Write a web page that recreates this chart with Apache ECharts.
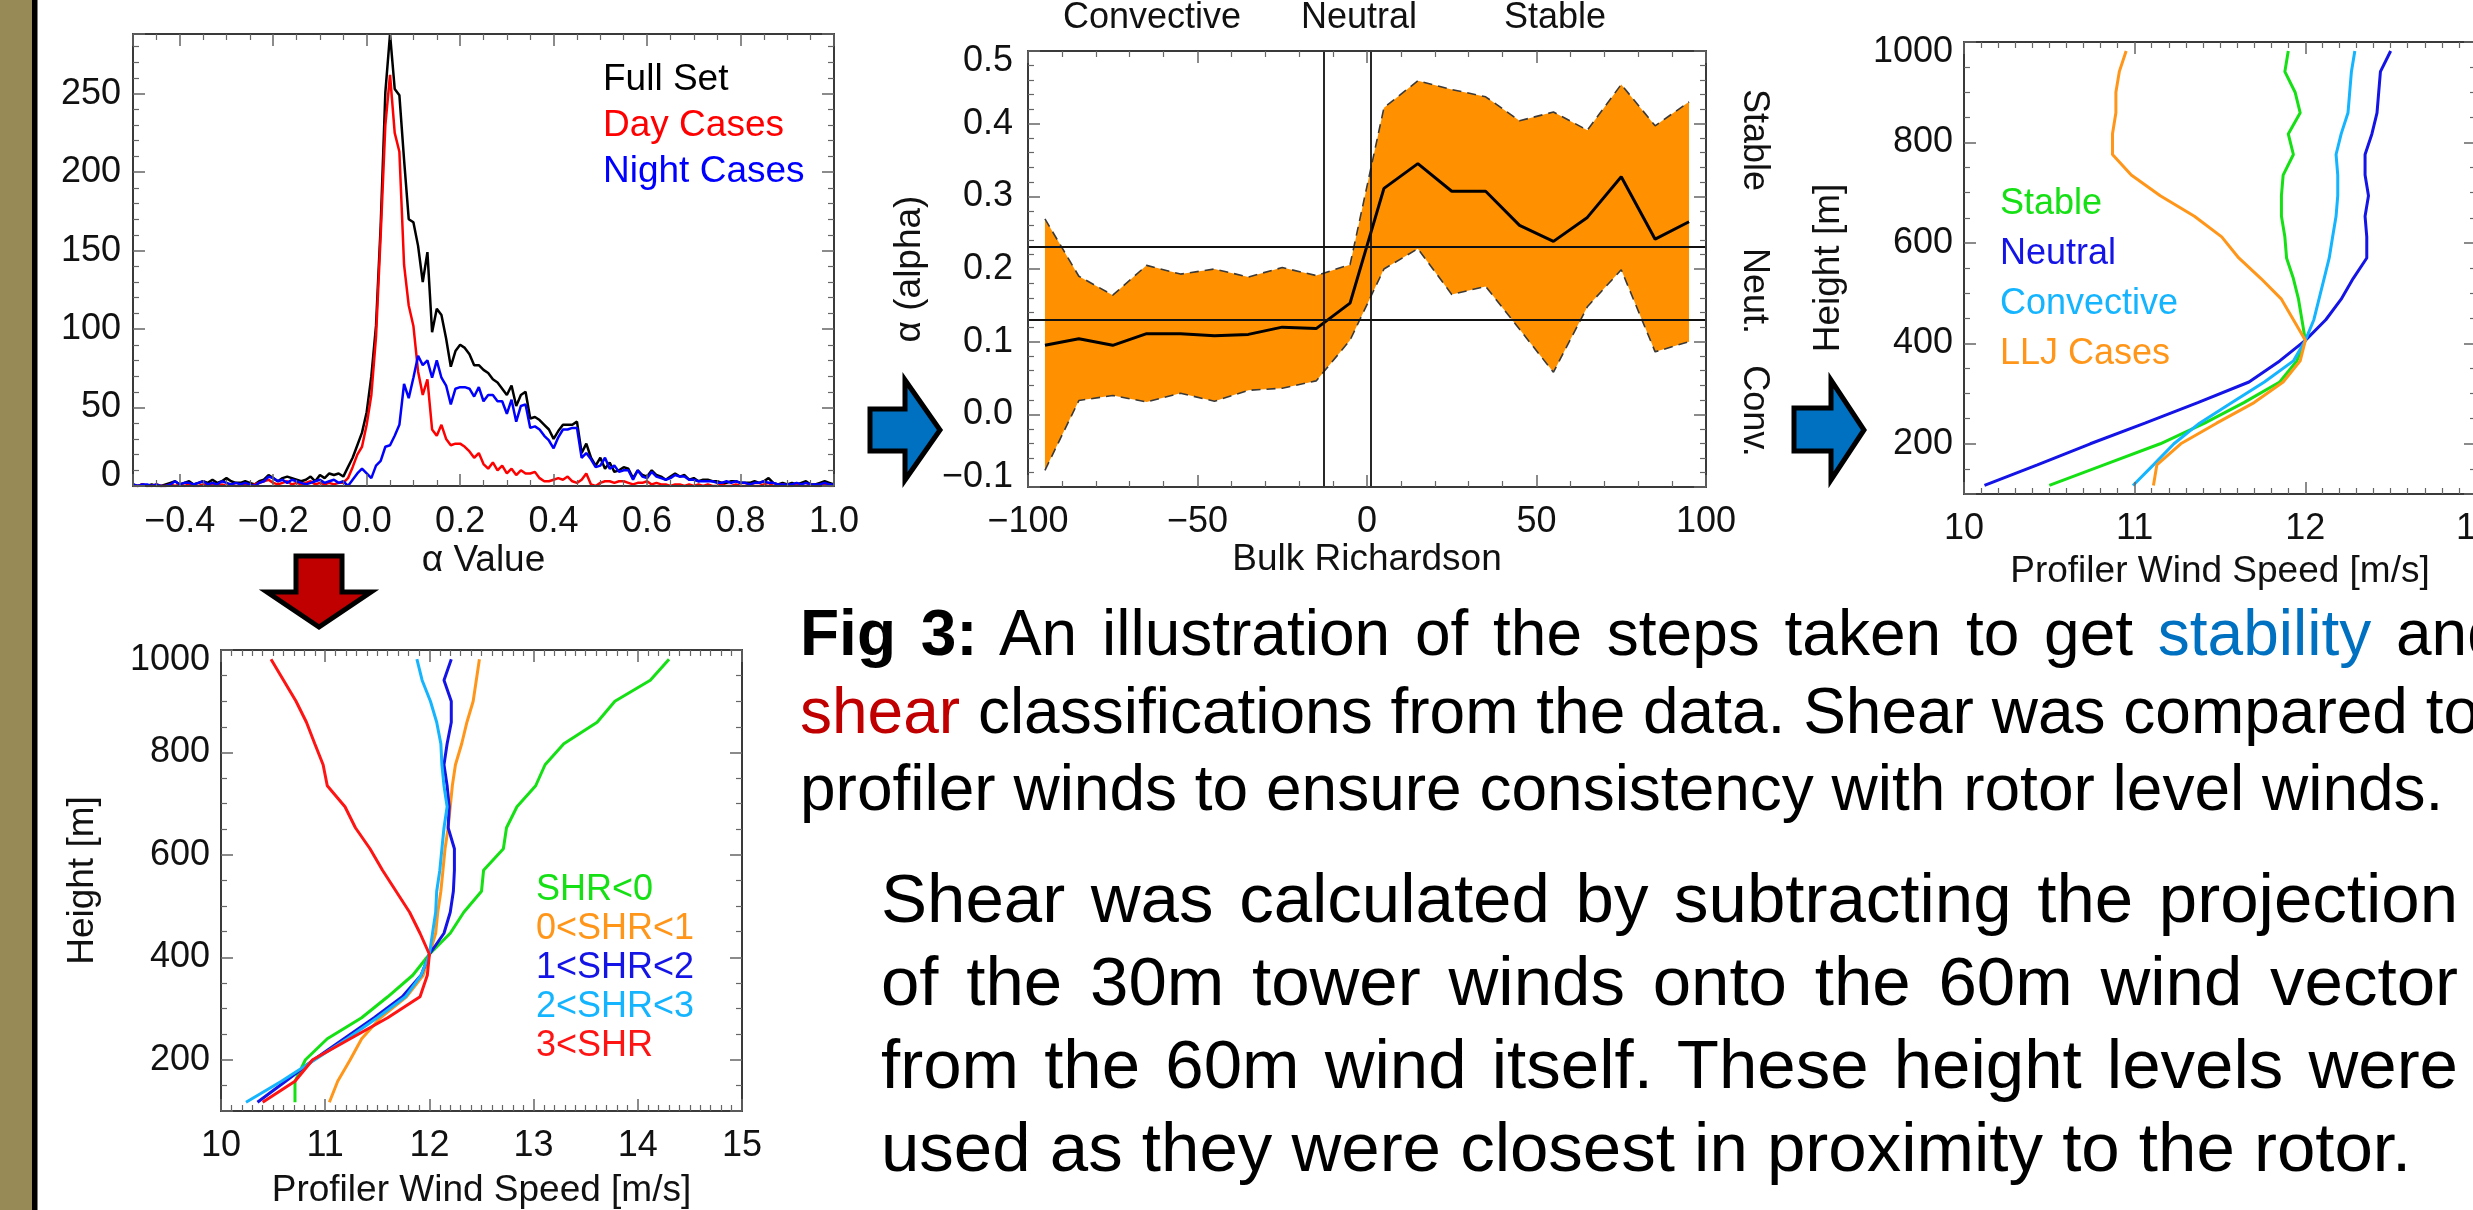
<!DOCTYPE html>
<html>
<head>
<meta charset="utf-8">
<title>Fig 3 - stability and shear classification</title>
<script src="https://cdn.jsdelivr.net/npm/echarts@6.0.0/dist/echarts.min.js"></script>
<style>
  html, body { margin: 0; padding: 0; background: #fff; overflow: hidden; }
  #chart { position: absolute; left: 0; top: 0; width: 2473px; height: 1210px; }
  .txt { position: absolute; font-family: "Liberation Sans", Arial, Helvetica, sans-serif; color: #000; white-space: nowrap; }
  .txt .j { text-align: justify; text-align-last: justify; }
</style>
</head>
<body>
<div id="chart"></div>

<div class="txt" style="left:800px; top:595px; font-size:64px; line-height:77.5px;">
  <div style="word-spacing:7px;"><b>Fig 3:</b> An illustration of the steps taken to get <span style="color:#0070c0">stability</span> and</div>
  <div><span style="color:#c00000">shear</span> classifications from the data. Shear was compared to</div>
  <div>profiler winds to ensure consistency with rotor level winds.</div>
</div>
<div class="txt" style="left:881px; top:856.6px; width:1577px; font-size:69px; line-height:83px;">
  <div class="j">Shear was calculated by subtracting the projection</div>
  <div class="j">of the 30m tower winds onto the 60m wind vector</div>
  <div class="j">from the 60m wind itself. These height levels were</div>
  <div>used as they were closest in proximity to the rotor.</div>
</div>

<script>
// histogram of alpha, bins of 0.01 from -0.50 to 1.00
const alphaBinStart = -0.5;
const alphaBinWidth = 0.01;
const fullSetCounts = [
  1, 0, 1, 0, 1, 0, 0, 1, 2, 3, 1, 2, 3, 1, 2, 3, 2, 4, 2, 3, 5, 3, 2, 2, 3, 2, 1, 3, 4, 7,
  5, 3, 5, 6, 5, 4, 3, 4, 6, 3, 7, 5, 8, 7, 8, 6,
  12, 18, 26, 34, 47,
  70, 102, 166, 251, 288, 253, 249, 208, 170, 168, 153, 130, 149, 98, 113, 109, 94, 76, 86, 90,
  88, 84, 77, 77, 74, 72, 68, 66, 62, 58, 64, 51, 58, 60, 43, 44, 42, 39, 36, 30,
  35, 39, 39, 39, 41, 21, 27, 18, 13, 18, 11, 15, 9,
  10, 12, 11, 5, 10, 7, 6, 10, 7, 6, 4, 6, 8, 6, 7, 4, 5, 3, 4, 4, 3, 3, 2, 2, 3, 3, 2, 2, 2, 3,
  2, 3, 5, 2, 1, 2, 1, 2, 1, 2, 3, 1, 1, 2, 3, 2, 1
];
const dayCounts = [
  0, 0, 1, 0, 0, 1, 0, 0, 1, 0, 1, 0, 1, 0, 0, 1, 0, 1, 0, 1, 0, 1, 0, 0, 1, 0,
  1, 2, 3, 4, 2, 1, 2, 3, 1, 2, 1, 2, 3, 1, 2, 1, 2, 1, 2, 2,
  5, 12, 20, 25, 39,
  58, 95, 160, 230, 262, 225, 213, 141, 115, 102, 73, 58, 68, 36, 32, 39, 30, 26, 27, 27,
  25, 22, 18, 21, 14, 11, 15, 10, 13, 8, 11, 7, 10, 8, 8, 9, 5, 3, 3, 4,
  5, 4, 6, 3, 2, 4, 8, 1, 0, 2, 3, 3, 2,
  3, 3, 2, 1, 2, 2, 3, 1, 2, 1, 1, 0, 1, 1, 0, 1, 0, 1, 0, 1, 0, 0, 1, 0, 0, 1, 0, 0, 1, 0,
  0, 1, 2, 0, 0, 1, 0, 0, 1, 0, 0, 1, 0, 0, 1, 0, 0
];
const nightCounts = [
  1, 0, 1, 1, 0, 1, 0, 0, 1, 3, 1, 2, 2, 1, 2, 3, 1, 2, 1, 3, 2, 1, 2, 1, 2, 1, 0, 2, 3, 6,
  5, 3, 4, 2, 4, 3, 2, 1, 2, 3, 4, 2, 3, 4, 2, 3,
  0, 4, 8, 11, 8,
  5, 13, 16, 25, 26, 32, 39, 65, 56, 69, 83, 77, 80, 69, 80, 69, 64, 52, 62, 63,
  63, 62, 57, 63, 54, 58, 58, 54, 54, 46, 55, 41, 51, 52, 37, 38, 36, 32, 29, 24,
  31, 36, 36, 37, 37, 18, 21, 17, 12, 13, 18, 11, 13,
  9, 10, 10, 4, 10, 6, 5, 9, 6, 5, 4, 5, 7, 6, 6, 4, 4, 3, 3, 3, 3, 2, 2, 3, 2, 3, 2, 2, 1, 2,
  2, 3, 2, 2, 1, 1, 1, 1, 2, 1, 2, 1, 1, 1, 2, 1, 1
];

// alpha against bulk Richardson number
const riBins = [-95, -85, -75, -65, -55, -45, -35, -25, -15, -5, 5, 15, 25, 35, 45, 55, 65, 75, 85, 95];
const alphaMean = [0.095, 0.104, 0.095, 0.111, 0.111, 0.108, 0.110, 0.120, 0.118, 0.153,
  0.311, 0.345, 0.307, 0.307, 0.260, 0.238, 0.271, 0.327, 0.241, 0.265];
const alphaUpper = [0.269, 0.190, 0.164, 0.205, 0.193, 0.200, 0.189, 0.202, 0.191, 0.206,
  0.422, 0.459, 0.447, 0.437, 0.404, 0.416, 0.391, 0.454, 0.397, 0.430];
const alphaLower = [-0.077, 0.019, 0.026, 0.017, 0.029, 0.018, 0.033, 0.036, 0.046, 0.102,
  0.200, 0.228, 0.165, 0.176, 0.117, 0.058, 0.148, 0.199, 0.086, 0.100];
const riLimits = [-12.7, 1.2];
const alphaLimits = [0.13, 0.23];
const stabilityNames = ['Convective', 'Neutral', 'Stable'];
const stabilityShort = ['Stable', 'Neut.', 'Conv.'];

// profiler wind speed profiles (m/s) at the profiler gates (m)
const gateHeights = [117, 158, 200, 241, 282, 323, 365, 406, 447, 488, 529, 570, 612, 653, 694, 735, 776, 817, 859, 900, 941, 982];
const stableWind = [10.50, 10.82, 11.15, 11.41, 11.64, 11.85, 11.95, 12.00, 11.98, 11.96, 11.93, 11.89, 11.88, 11.86, 11.86, 11.87, 11.93, 11.90, 11.97, 11.94, 11.88, 11.90];
const neutralWind = [10.12, 10.43, 10.74, 11.06, 11.37, 11.67, 11.85, 12.00, 12.12, 12.21, 12.28, 12.36, 12.36, 12.35, 12.37, 12.35, 12.35, 12.39, 12.42, 12.43, 12.44, 12.50];
const convectiveWind = [10.99, 11.11, 11.23, 11.38, 11.57, 11.76, 11.93, 12.00, 12.05, 12.08, 12.11, 12.14, 12.16, 12.18, 12.19, 12.19, 12.18, 12.21, 12.25, 12.26, 12.27, 12.29];
const lljWind = [11.11, 11.13, 11.27, 11.48, 11.70, 11.87, 11.97, 12.00, 11.93, 11.86, 11.74, 11.61, 11.51, 11.35, 11.15, 10.98, 10.87, 10.87, 10.89, 10.89, 10.91, 10.95];

const shrNeg = [10.71, 10.71, 10.81, 11.02, 11.35, 11.60, 11.84, 12.00, 12.20, 12.33, 12.50, 12.52, 12.71, 12.74, 12.84, 13.02, 13.11, 13.29, 13.61, 13.78, 14.12, 14.30];
const shr01 = [11.04, 11.12, 11.24, 11.35, 11.53, 11.78, 11.94, 12.00, 12.06, 12.08, 12.11, 12.13, 12.15, 12.18, 12.20, 12.22, 12.25, 12.31, 12.36, 12.42, 12.45, 12.48];
const shr12 = [10.35, 10.62, 10.89, 11.18, 11.47, 11.74, 11.92, 12.00, 12.14, 12.20, 12.23, 12.24, 12.24, 12.18, 12.19, 12.17, 12.14, 12.17, 12.21, 12.21, 12.14, 12.21];
const shr23 = [10.24, 10.58, 10.90, 11.21, 11.50, 11.77, 11.92, 12.00, 12.03, 12.06, 12.07, 12.10, 12.12, 12.14, 12.17, 12.14, 12.12, 12.11, 12.07, 12.01, 11.93, 11.88];
const shr3 = [10.40, 10.71, 10.88, 11.24, 11.60, 11.91, 11.98, 12.00, 11.91, 11.81, 11.68, 11.55, 11.43, 11.29, 11.19, 11.02, 10.98, 10.90, 10.82, 10.72, 10.60, 10.48];

window.addEventListener('load', function () {
  const FONT = '"Liberation Sans", Arial, Helvetica, sans-serif';
  const INK = '#111';
  const AXIS_COLOR = '#3a3a3a';
  const TICK_COLOR = '#666';
  const GREEN = '#14e014', BLUE = '#1414e6', SKY = '#14b4ff', ORANGE = '#ff9619', RED = '#ff1414';

  const chart = echarts.init(document.getElementById('chart'));

  // edge labels sit a bit inside the frame, as IDL draws them
  const rich = {
    dn: { padding: [20, 0, 0, 0], fontSize: 36, fontFamily: FONT, color: INK },
    up: { padding: [0, 0, 20, 0], fontSize: 36, fontFamily: FONT, color: INK }
  };
  function fmt(digits, shifts) {
    return function (v) {
      const s = (v < -1e-9 ? '\u2212' : '') + Math.abs(v).toFixed(digits);
      for (const k in shifts) {
        if (Math.abs(v - Number(k)) < 1e-9) return '{' + shifts[k] + '|' + s + '}';
      }
      return s;
    };
  }

  const xAxes = [];
  const yAxes = [];
  function axis(gridIndex, position, s, main) {
    const a = {
      type: 'value', gridIndex: gridIndex, position: position, min: s.min, max: s.max, z: 5,
      axisLine: { show: true, onZero: false, lineStyle: { color: AXIS_COLOR, width: 2 } },
      axisTick: { show: true, inside: true, length: 12, lineStyle: { color: TICK_COLOR, width: 1.5 } },
      minorTick: { show: true, splitNumber: s.minor, length: 6, lineStyle: { color: TICK_COLOR, width: 1.2 } },
      splitLine: { show: false },
      axisLabel: {
        show: main, margin: s.margin, fontSize: 36, lineHeight: 36, fontFamily: FONT, color: INK,
        formatter: fmt(s.digits, s.shifts || {}), rich: rich,
        showMinLabel: s.showMin !== false, showMaxLabel: s.showMax !== false
      }
    };
    if (s.interval != null) a.interval = s.interval; else a.splitNumber = s.splitNumber;
    if (main && s.name) {
      a.name = s.name;
      a.nameLocation = 'middle';
      a.nameGap = s.nameGap;
      a.nameTextStyle = { fontSize: 37, fontFamily: FONT, color: INK, verticalAlign: 'middle' };
    }
    return a;
  }
  function frame(gridIndex, xs, ys) {
    const f = { x: xAxes.length, y: yAxes.length };
    xAxes.push(axis(gridIndex, 'bottom', xs, true), axis(gridIndex, 'top', xs, false));
    yAxes.push(axis(gridIndex, 'left', ys, true), axis(gridIndex, 'right', ys, false));
    return f;
  }

  const f1 = frame(0,
    { min: -0.5, max: 1.0, splitNumber: 7, minor: 4, margin: 18, digits: 1, showMin: false, name: '\u03b1 Value', nameGap: 75 },
    { min: 0, max: 288, interval: 50, minor: 5, margin: 12, digits: 0, showMax: false, shifts: { 0: 'up' } });
  const f2 = frame(1,
    { min: -100, max: 100, interval: 50, minor: 5, margin: 17, digits: 0, name: 'Bulk Richardson', nameGap: 73 },
    { min: -0.1, max: 0.5, interval: 0.1, minor: 5, margin: 15, digits: 1, shifts: { '0.5': 'dn', '-0.1': 'up' }, name: '\u03b1 (alpha)', nameGap: 118 });
  const f3 = frame(2,
    { min: 10, max: 13, interval: 1, minor: 10, margin: 17, digits: 0, name: 'Profiler Wind Speed [m/s]', nameGap: 78 },
    { min: 100, max: 1000, splitNumber: 5, minor: 4, margin: 11, digits: 0, showMin: false, shifts: { 1000: 'dn' }, name: 'Height [m]', nameGap: 135 });
  const f4 = frame(3,
    { min: 10, max: 15, interval: 1, minor: 10, margin: 17, digits: 0, name: 'Profiler Wind Speed [m/s]', nameGap: 80 },
    { min: 100, max: 1000, splitNumber: 5, minor: 4, margin: 11, digits: 0, showMin: false, shifts: { 1000: 'dn' }, name: 'Height [m]', nameGap: 138 });

  function binned(counts) {
    return counts.map((c, i) => [alphaBinStart + i * alphaBinWidth, c]);
  }
  function paired(xs, ys) {
    return xs.map((x, i) => [x, ys[i]]);
  }
  function line(name, f, data, color, width, extra) {
    return Object.assign({
      type: 'line', name: name, xAxisIndex: f.x, yAxisIndex: f.y, data: data,
      symbol: 'none', showSymbol: false, smooth: false, silent: true,
      lineStyle: { color: color, width: width }, itemStyle: { color: color }
    }, extra || {});
  }

  // orange spread between lower and upper alpha, drawn as one polygon
  const bandSeries = {
    type: 'custom', name: 'alpha spread', xAxisIndex: f2.x, yAxisIndex: f2.y, silent: true, z: 1,
    data: riBins.map((r, i) => [r, alphaLower[i], alphaUpper[i]]),
    encode: { x: 0, y: [1, 2] },
    renderItem: function (params, api) {
      if (params.dataIndexInside !== 0) return null;
      const pts = [];
      for (let i = 0; i < riBins.length; i++) pts.push(api.coord([riBins[i], alphaUpper[i]]));
      for (let i = riBins.length - 1; i >= 0; i--) pts.push(api.coord([riBins[i], alphaLower[i]]));
      return { type: 'polygon', shape: { points: pts }, style: { fill: '#ff9100', stroke: null } };
    }
  };

  const series = [
    line('Full Set', f1, binned(fullSetCounts), '#000', 2.5),
    line('Day Cases', f1, binned(dayCounts), '#ff0000', 2.5),
    line('Night Cases', f1, binned(nightCounts), '#0000ff', 2.5),

    bandSeries,
    line('upper', f2, paired(riBins, alphaUpper), '#333', 1.6, { lineStyle: { color: '#3a3a3a', width: 1.6, type: [9, 6] } }),
    line('lower', f2, paired(riBins, alphaLower), '#333', 1.6, { lineStyle: { color: '#3a3a3a', width: 1.6, type: [9, 6] } }),
    line('mean alpha', f2, paired(riBins, alphaMean), '#000', 3, {
      markLine: {
        silent: true, symbol: ['none', 'none'], animation: false,
        label: { show: false },
        lineStyle: { color: '#111', width: 1.8, type: 'solid' },
        data: riLimits.map(v => ({ xAxis: v })).concat(alphaLimits.map(v => ({ yAxis: v })))
      }
    }),

    line('Stable', f3, paired(stableWind, gateHeights), GREEN, 3),
    line('Neutral', f3, paired(neutralWind, gateHeights), BLUE, 3),
    line('Convective', f3, paired(convectiveWind, gateHeights), SKY, 3),
    line('LLJ Cases', f3, paired(lljWind, gateHeights), ORANGE, 3),

    line('SHR<0', f4, paired(shrNeg, gateHeights), GREEN, 3),
    line('0<SHR<1', f4, paired(shr01, gateHeights), ORANGE, 3),
    line('1<SHR<2', f4, paired(shr12, gateHeights), BLUE, 3),
    line('2<SHR<3', f4, paired(shr23, gateHeights), SKY, 3),
    line('3<SHR', f4, paired(shr3, gateHeights), RED, 3)
  ];

  function legend(names, colors, left, top, fontSize, rowHeight) {
    return {
      orient: 'vertical', left: left, top: top, padding: 0, itemGap: 0,
      itemWidth: 0, itemHeight: 0, icon: 'rect', selectedMode: false,
      textStyle: { fontSize: fontSize, lineHeight: rowHeight, fontFamily: FONT },
      data: names.map((n, i) => ({ name: n, textStyle: { color: colors[i] } }))
    };
  }

  function arrow(points, fill) {
    return {
      type: 'polygon', shape: { points: points },
      style: { fill: fill, stroke: '#000', lineWidth: 5, lineJoin: 'miter' }, z: 10
    };
  }
  function label(text, x, y, rotation) {
    return {
      type: 'text', x: x, y: y, rotation: rotation || 0, z: 10,
      style: { text: text, fontSize: 36, fontFamily: FONT, fill: INK, align: 'center', verticalAlign: 'middle' }
    };
  }

  const graphic = [
    { type: 'rect', shape: { x: 0, y: 0, width: 32, height: 1210 }, style: { fill: '#978a56' }, z: 1 },
    { type: 'rect', shape: { x: 32, y: 0, width: 5.5, height: 1210 }, style: { fill: '#000' }, z: 1 },
    arrow([[870, 409], [905, 409], [905, 380], [940, 430], [905, 480], [905, 451], [870, 451]], '#0070c0'),
    arrow([[1794, 408], [1831, 408], [1831, 380], [1864, 430], [1831, 480], [1831, 451], [1794, 451]], '#0070c0'),
    arrow([[296, 556], [342, 556], [342, 592], [371, 592], [319, 627], [267, 592], [296, 592]], '#c00000'),
    label(stabilityNames[0], 1152, 18),
    label(stabilityNames[1], 1359, 18),
    label(stabilityNames[2], 1555, 18),
    label(stabilityShort[0], 1754, 140, -Math.PI / 2),
    label(stabilityShort[1], 1754, 291, -Math.PI / 2),
    label(stabilityShort[2], 1754, 411, -Math.PI / 2)
  ];

  chart.setOption({
    animation: false,
    backgroundColor: 'transparent',
    grid: [
      { left: 133, top: 34, width: 701, height: 452 },
      { left: 1028, top: 51, width: 678, height: 436 },
      { left: 1964, top: 42, width: 512, height: 452 },
      { left: 221, top: 650, width: 521, height: 461 }
    ].map(g => Object.assign({ containLabel: false, outerBoundsMode: 'none' }, g)),
    xAxis: xAxes,
    yAxis: yAxes,
    legend: [
      legend(['Full Set', 'Day Cases', 'Night Cases'], ['#000', '#ff0000', '#0000ff'], 598, 57, 37, 46),
      legend(['Stable', 'Neutral', 'Convective', 'LLJ Cases'], [GREEN, BLUE, SKY, ORANGE], 1995, 179, 36, 50),
      legend(['SHR<0', '0<SHR<1', '1<SHR<2', '2<SHR<3', '3<SHR'], [GREEN, ORANGE, BLUE, SKY, RED], 531, 871, 36, 39)
    ],
    series: series,
    graphic: graphic
  });

  window.addEventListener('resize', () => chart.resize());
});
</script>
</body>
</html>
